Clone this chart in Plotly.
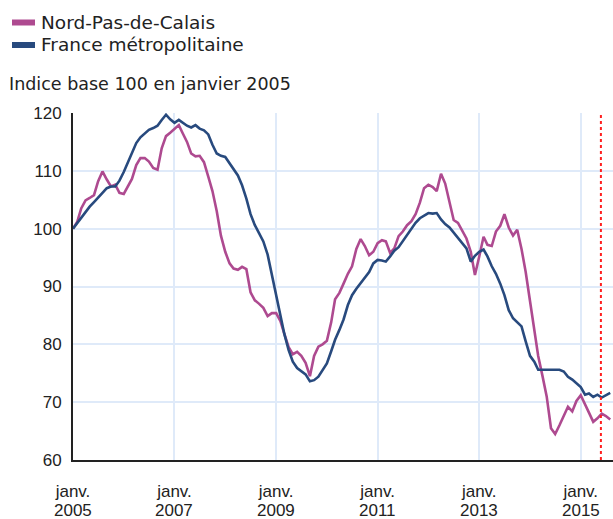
import pandas as pd
import plotly.graph_objects as go

# ---- data -------------------------------------------------------------
start_month = "2005-01-01"
n_months = 128
months = pd.date_range(start_month, periods=n_months, freq="MS")

nord_pas_de_calais = [
    100.0, 101.2, 103.5, 104.9, 105.3, 105.8, 108.2, 109.9, 108.5, 107.3, 107.6, 106.2,
    106.0, 107.4, 108.6, 111.0, 112.2, 112.2, 111.6, 110.5, 110.2, 113.9, 116.0, 116.6,
    117.2, 117.9, 116.5, 115.0, 113.0, 112.5, 112.6, 111.5, 109.0, 106.5, 103.0, 98.8,
    96.0, 94.0, 93.1, 92.9, 93.4, 93.0, 89.0, 87.6, 87.0, 86.3, 84.9, 85.4,
    85.4, 84.0, 81.8, 79.5, 78.3, 78.7, 78.0, 76.8, 74.5, 78.0, 79.6, 80.0,
    80.6, 83.8, 87.8, 88.9, 90.5, 92.2, 93.5, 96.5, 98.2, 97.0, 95.4, 96.0,
    97.5, 98.0, 97.8, 95.8, 96.6, 98.7, 99.5, 100.6, 101.3, 102.5, 104.5, 107.0,
    107.6, 107.2, 106.5, 109.5, 107.8, 104.5, 101.5, 101.0, 99.6, 98.3, 96.0, 92.0,
    95.2, 98.6, 97.2, 97.0, 99.5, 100.5, 102.5, 100.2, 98.8, 99.8, 96.5, 92.5,
    87.5, 82.5, 78.0, 74.5, 71.0, 65.5, 64.5, 66.0, 67.5, 69.2, 68.4, 70.2,
    71.2, 69.5, 68.2, 66.6, 67.2, 68.0, 67.6, 67.0,
]

france_metropolitaine = [
    100.0, 101.0, 102.0, 103.0, 103.8, 104.6, 105.3, 106.2, 107.0, 107.3, 107.3, 108.3,
    109.8, 111.5, 113.3, 114.8, 115.8, 116.5, 117.1, 117.4, 117.8, 118.8, 119.7, 118.9,
    118.3, 118.8, 118.3, 117.8, 117.5, 117.9, 117.3, 117.0, 116.3, 114.5, 113.0, 112.6,
    112.4, 111.3, 110.2, 109.2, 107.5, 105.2, 102.5, 100.6, 99.2, 97.8, 95.5, 92.0,
    88.3, 84.8, 81.8, 79.0, 77.0, 75.9, 75.4, 74.8, 73.6, 73.8, 74.4, 75.5,
    76.7, 78.8, 80.8, 82.5, 84.3, 86.8, 88.5, 89.6, 90.6, 91.5, 92.5, 94.0,
    94.6, 94.5, 94.3, 95.2, 96.2, 96.8, 97.8, 98.8, 99.8, 101.0, 101.8, 102.3,
    102.7, 102.6, 102.7, 101.6, 100.8, 100.2, 99.3, 98.5, 97.5, 96.6, 94.3, 95.3,
    96.0, 96.4, 95.2, 93.5, 92.2, 90.5, 88.5, 85.9, 84.5, 83.8, 83.1, 80.5,
    78.0, 77.0, 75.6, 75.6, 75.6, 75.6, 75.6, 75.6, 75.3, 74.4, 73.9, 73.3,
    72.6, 71.3, 71.5, 70.9, 71.3, 70.8, 71.2, 71.6,
]

series_names = ["Nord-Pas-de-Calais", "France métropolitaine"]
subtitle = "Indice base 100 en janvier 2005"
tick_years = [2005, 2007, 2009, 2011, 2013, 2015]
tick_month_label = "janv."
tick_dates = [f"{y}-01-01" for y in tick_years]
y_ticks = [60, 70, 80, 90, 100, 110, 120]
marker_date = "2015-05-26"
x_range = ["2005-01-01", "2015-08-21"]

# ---- styles -----------------------------------------------------------
PINK = "#AE4A90"
BLUE = "#284A7E"
GRID = "#DFEAF9"
TEXT = "#222222"
W, H = 613, 519
ML, MR, MT, MB = 73, 0, 113, 59
PW, PH = W - ML - MR, H - MT - MB


def px_x(px):
    return (px - ML) / PW


def px_y(py):
    return (H - MB - py) / PH


fig = go.Figure()
fig.add_trace(go.Scatter(x=months, y=nord_pas_de_calais, mode="lines",
                         line=dict(color=PINK, width=2.6), name=series_names[0],
                         showlegend=False))
fig.add_trace(go.Scatter(x=months, y=france_metropolitaine, mode="lines",
                         line=dict(color=BLUE, width=2.6), name=series_names[1],
                         showlegend=False))

# red dotted marker line
fig.add_shape(type="line", xref="x", yref="paper", x0=marker_date, x1=marker_date,
              y0=0, y1=1, line=dict(color="#FF2020", width=2, dash="dot"))

# manual legend
for i, (name, col) in enumerate(zip(series_names, [PINK, BLUE])):
    cy = 22.5 + i * 22.5
    fig.add_shape(type="rect", xref="paper", yref="paper",
                  x0=px_x(12), x1=px_x(35), y0=px_y(cy - 3), y1=px_y(cy + 3),
                  fillcolor=col, line=dict(width=0))
    fig.add_annotation(xref="paper", yref="paper", x=px_x(39), y=px_y(cy),
                       xanchor="left", yanchor="middle", showarrow=False,
                       text=name, font=dict(family="DejaVu Sans", size=18.5, color=TEXT))

fig.add_annotation(xref="paper", yref="paper", x=px_x(7), y=px_y(84),
                   xanchor="left", yanchor="middle", showarrow=False,
                   text=subtitle, font=dict(family="DejaVu Sans", size=17.5, color=TEXT))

# second line of the x tick labels (years)
for d, y in zip(tick_dates, tick_years):
    fig.add_annotation(xref="x", yref="paper", x=d, y=px_y(511),
                       xanchor="center", yanchor="middle", showarrow=False,
                       borderpad=0,
                       text=str(y), font=dict(family="Liberation Sans, Arial", size=17, color=TEXT))

fig.update_layout(
    width=W, height=H,
    margin=dict(l=ML, r=MR, t=MT, b=MB, pad=0, autoexpand=False),
    paper_bgcolor="white", plot_bgcolor="white",
    showlegend=False,
    font=dict(family="Liberation Sans, Arial", size=17, color=TEXT),
)
fig.update_xaxes(
    type="date", range=x_range, automargin=False,
    tickvals=tick_dates, ticktext=[tick_month_label] * len(tick_dates), tickangle=0,
    tickfont=dict(size=17),
    showgrid=True, gridcolor=GRID, gridwidth=2,
    showline=True, linecolor="#222222", linewidth=2,
    ticks="", ticklabelstandoff=15, zeroline=False,
)
fig.update_yaxes(
    range=[60, 120], tickvals=y_ticks, automargin=False,
    showgrid=True, gridcolor=GRID, gridwidth=2,
    showline=True, linecolor="#222222", linewidth=2,
    ticks="", ticklabelstandoff=6, zeroline=False,
)

fig.write_html(
    "out.html",
    config={"displayModeBar": False},
    post_script="document.body.style.margin='0';document.body.style.overflow='hidden';",
)
